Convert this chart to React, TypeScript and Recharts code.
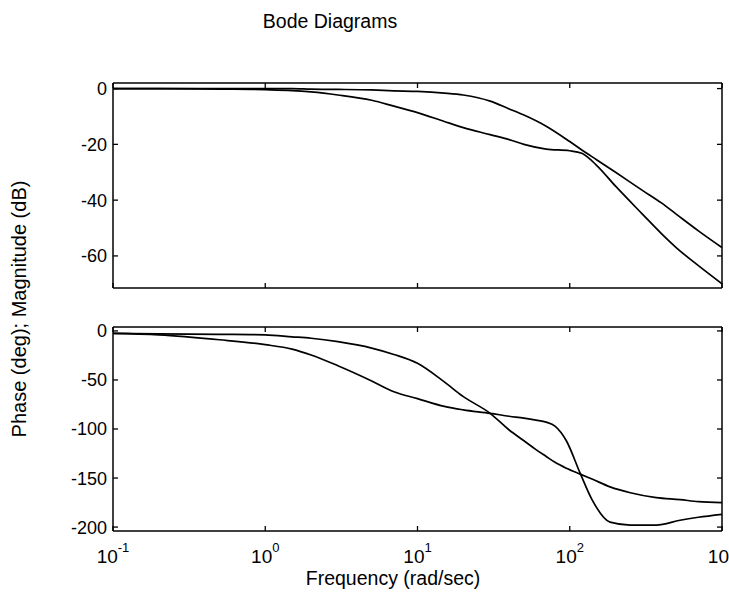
import { Line, LineChart, XAxis, YAxis } from 'recharts'

const FONT = '"Liberation Sans", Arial, Helvetica, sans-serif'

// magnitude plot (dB)
const magFreq = [0.1, 0.2, 0.5, 1, 1.5, 2, 3, 5, 7, 10, 15, 20, 30, 40, 50, 70, 100, 120, 150, 200, 300, 400, 500, 700, 1000]
const magUpper = [0, 0, 0, 0, 0, -0.2, -0.3, -0.5, -0.8, -1, -1.6, -2.3, -4.5, -7.3, -9.5, -13.5, -19, -22, -25.5, -30, -36.5, -41, -45, -51, -57]
const magLower = [0, 0, -0.2, -0.4, -0.7, -1.2, -2.3, -4.2, -6.3, -8.6, -11.8, -14, -16.5, -18.3, -20, -21.7, -22.3, -23.2, -27.5, -35, -45, -52, -57, -63.5, -70]

// phase plot (deg)
const phaseFreq = [0.1, 0.2, 0.5, 1, 1.5, 2, 3, 5, 7, 10, 15, 20, 30, 40, 50, 60, 70, 80, 95, 117, 140, 184, 250, 370, 530, 700, 1000]
const phaseUpper = [-2.5, -3, -3.5, -4, -6, -7.5, -11, -17.5, -24, -33, -52, -67, -84, -101, -112, -121, -128, -134, -140, -146, -151, -159, -165, -170, -172, -174, -175]
const phaseLower = [-2.5, -4, -9, -14, -18.5, -24.5, -35.5, -51, -62, -69, -77, -80.5, -84, -87, -89, -91, -93, -97, -112, -145, -172, -195, -198, -198, -193, -190, -187]

const decadeTicks = [0.1, 1, 10, 100, 1000]
const magTicks = [0, -20, -40, -60]
const phaseTicks = [0, -50, -100, -150, -200]

const magData = magFreq.map((f, i) => ({ f, a: magUpper[i], b: magLower[i] }))
const phaseData = phaseFreq.map((f, i) => ({ f, a: phaseUpper[i], b: phaseLower[i] }))

function XTick(props: any) {
  const { x, y, payload, side, showLabel } = props
  const dir = side === 'top' ? 1 : -1
  const exp = Math.round(Math.log10(payload.value))
  return (
    <g>
      <line x1={x} y1={y} x2={x} y2={y + dir * 5} stroke="#000" strokeWidth={1.3} />
      {showLabel && (
        <text x={x} y={y + 32} textAnchor="middle" fontFamily={FONT} fontSize={19} fill="#000">
          10
          <tspan dy={-11} fontSize={13}>
            {exp}
          </tspan>
        </text>
      )}
    </g>
  )
}

function YTick(props: any) {
  const { x, y, payload, side } = props
  const dir = side === 'left' ? 1 : -1
  return (
    <g>
      <line x1={x} y1={y} x2={x + dir * 5} y2={y} stroke="#000" strokeWidth={1.3} />
      {side === 'left' && (
        <text x={x - 6} y={y} dy="0.36em" textAnchor="end" fontFamily={FONT} fontSize={18} fill="#000">
          {payload.value}
        </text>
      )}
    </g>
  )
}

function Panel({
  data,
  yDomain,
  yTicks,
  height,
  margin,
  showXLabels,
}: {
  data: { f: number; a: number; b: number }[]
  yDomain: [number, number]
  yTicks: number[]
  height: number
  margin: { top: number; right: number; bottom: number; left: number }
  showXLabels: boolean
}) {
  const axisLine = { stroke: '#000', strokeWidth: 1.5 }
  return (
    <LineChart width={729} height={height} data={data} margin={margin}>
      <XAxis
        xAxisId="b"
        dataKey="f"
        type="number"
        scale="log"
        domain={[0.1, 1000]}
        allowDataOverflow
        ticks={decadeTicks}
        interval={0}
        height={1}
        tickSize={0}
        tickMargin={0}
        tickLine={false}
        axisLine={axisLine}
        tick={(p: any) => <XTick {...p} side="bottom" showLabel={showXLabels} />}
      />
      <XAxis
        xAxisId="t"
        dataKey="f"
        type="number"
        scale="log"
        orientation="top"
        domain={[0.1, 1000]}
        allowDataOverflow
        ticks={decadeTicks}
        interval={0}
        height={1}
        tickSize={0}
        tickMargin={0}
        tickLine={false}
        axisLine={axisLine}
        tick={(p: any) => <XTick {...p} side="top" showLabel={false} />}
      />
      <YAxis
        yAxisId="l"
        type="number"
        domain={yDomain}
        allowDataOverflow
        ticks={yTicks}
        interval={0}
        width={50}
        tickSize={0}
        tickMargin={0}
        tickLine={false}
        axisLine={axisLine}
        tick={(p: any) => <YTick {...p} side="left" />}
      />
      <YAxis
        yAxisId="r"
        orientation="right"
        type="number"
        domain={yDomain}
        allowDataOverflow
        ticks={yTicks}
        interval={0}
        width={1}
        tickSize={0}
        tickMargin={0}
        tickLine={false}
        axisLine={axisLine}
        tick={(p: any) => <YTick {...p} side="right" />}
      />
      <Line
        xAxisId="b"
        yAxisId="l"
        type="monotone"
        dataKey="a"
        stroke="#000"
        strokeWidth={1.7}
        dot={false}
        isAnimationActive={false}
      />
      <Line
        xAxisId="b"
        yAxisId="l"
        type="monotone"
        dataKey="b"
        stroke="#000"
        strokeWidth={1.7}
        dot={false}
        isAnimationActive={false}
      />
    </LineChart>
  )
}

export default function App() {
  return (
    <div style={{ position: 'absolute', left: 0, top: 0, width: 729, height: 606, background: '#fff' }}>
      <div style={{ position: 'absolute', left: 0, top: 0 }}>
        <Panel
          data={magData}
          yDomain={[-71.5, 2]}
          yTicks={magTicks}
          height={300}
          margin={{ top: 82, right: 6, bottom: 11, left: 63 }}
          showXLabels={false}
        />
      </div>
      <div style={{ position: 'absolute', left: 0, top: 300 }}>
        <Panel
          data={phaseData}
          yDomain={[-204, 4]}
          yTicks={phaseTicks}
          height={306}
          margin={{ top: 26, right: 6, bottom: 74, left: 63 }}
          showXLabels
        />
      </div>
      <svg
        width={729}
        height={606}
        style={{ position: 'absolute', left: 0, top: 0, pointerEvents: 'none' }}
      >
        <text x={330} y={28} textAnchor="middle" fontFamily={FONT} fontSize={19.5} fill="#000">
          Bode Diagrams
        </text>
        <text x={393} y={585} textAnchor="middle" fontFamily={FONT} fontSize={19.5} fill="#000">
          Frequency (rad/sec)
        </text>
        <text
          x={0}
          y={0}
          transform="translate(26,309) rotate(-90)"
          textAnchor="middle"
          fontFamily={FONT}
          fontSize={20}
          fill="#000"
        >
          Phase (deg); Magnitude (dB)
        </text>
      </svg>
    </div>
  )
}
